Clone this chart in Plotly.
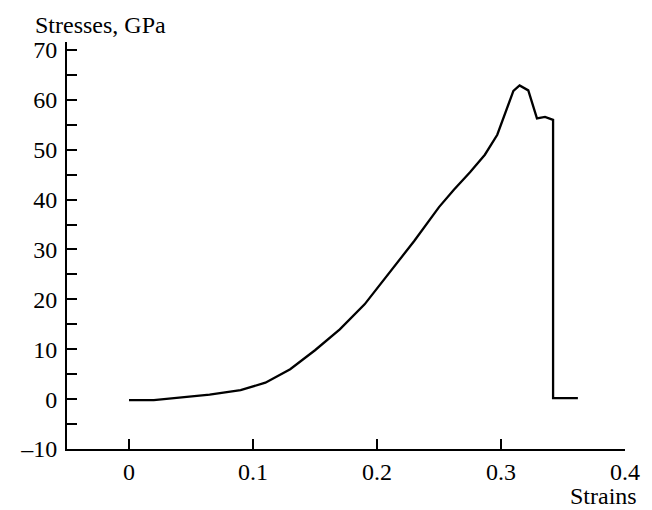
import plotly.graph_objects as go

strain = [0, 0.02, 0.065, 0.09, 0.11, 0.13, 0.15, 0.17, 0.19, 0.21, 0.23, 0.25,
          0.262, 0.275, 0.287, 0.297, 0.306, 0.310, 0.315, 0.322, 0.329, 0.3355,
          0.342, 0.342, 0.362]
stress = [-0.2, -0.2, 0.9, 1.8, 3.3, 6.0, 9.8, 14.0, 19.0, 25.3, 31.7, 38.5,
          42.0, 45.5, 49.0, 53.0, 59.3, 61.8, 62.9, 61.9, 56.3, 56.6,
          56.0, 0.2, 0.2]

x_ticks = [0, 0.1, 0.2, 0.3, 0.4]
x_ticklabels = ["0", "0.1", "0.2", "0.3", "0.4"]
y_ticks = [-10, 0, 10, 20, 30, 40, 50, 60, 70]
y_ticklabels = ["\u201310", "0", "10", "20", "30", "40", "50", "60", "70"]

FONT = "Liberation Serif, Times New Roman, serif"
FS = 24

fig = go.Figure()
fig.add_trace(go.Scatter(x=strain, y=stress, mode="lines",
                         line=dict(color="black", width=2.3), showlegend=False))

fig.update_layout(
    width=644, height=502,
    margin=dict(l=59, r=27, t=34, b=61),
    plot_bgcolor="white", paper_bgcolor="white",
    font=dict(family=FONT, size=FS, color="black"),
    xaxis=dict(range=[-0.05, 0.4], tickvals=x_ticks, ticktext=x_ticklabels,
               ticks="inside", ticklen=10, tickwidth=2, tickcolor="black",
               ticklabelstandoff=0,
               showline=True, linecolor="black", linewidth=2,
               showgrid=False, zeroline=False),
    yaxis=dict(range=[-10, 71.6], tickvals=y_ticks, ticktext=y_ticklabels,
               ticks="inside", ticklen=10, tickwidth=2, tickcolor="black",
               ticklabelstandoff=3,
               showline=True, linecolor="black", linewidth=2,
               showgrid=False, zeroline=False,
               minor=dict(tickvals=[-5, 5, 15, 25, 35, 45, 55, 65], ticks="inside",
                          ticklen=10, tickwidth=2, tickcolor="black", showgrid=False)),
    annotations=[
        dict(text="Strains", xref="paper", yref="paper", x=1.025, y=-0.116,
             xanchor="right", yanchor="middle", showarrow=False,
             font=dict(family=FONT, size=FS, color="black")),
        dict(text="Stresses, GPa", xref="paper", yref="paper", x=-0.061, y=1.042,
             xanchor="left", yanchor="middle", showarrow=False,
             font=dict(family=FONT, size=FS, color="black")),
    ],
)

fig.write_html("out.html")
